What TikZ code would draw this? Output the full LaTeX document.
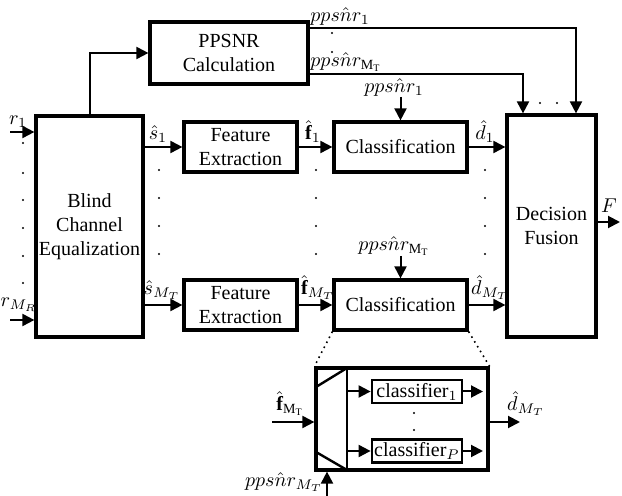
\documentclass[tikz,border=0pt]{standalone}
\usepackage{fontspec}
\setmainfont{Liberation Serif}
\usetikzlibrary{arrows.meta,positioning,calc}

\begin{document}
\begin{tikzpicture}[x=0.5pt,y=-0.5pt,
    every node/.style={font=\normalsize},
    blk/.style={draw, line width=1.6pt, align=center, inner sep=1pt},
    arr/.style={-{Triangle[length=6pt,width=6pt]}, line width=1pt},
    lbl/.style={inner sep=0pt, anchor=south}]
  \useasboundingbox (0,0) rectangle (622,496);
  % main blocks
  \node[blk, minimum width=53.5pt, minimum height=110.5pt] (bce) at (89.5,226.5) {Blind\\Channel\\Equalization};
  \node[blk, minimum width=79pt, minimum height=31pt] (ppsnr) at (229,53) {PPSNR\\Calculation};
  \node[blk, minimum width=56.5pt, minimum height=25pt] (fe1) at (240.5,147) {Feature\\Extraction};
  \node[blk, minimum width=56.5pt, minimum height=25pt] (fe2) at (240.5,305) {Feature\\Extraction};
  \node[blk, minimum width=66.5pt, minimum height=25pt] (cl1) at (400.5,147) {Classification};
  \node[blk, minimum width=66.5pt, minimum height=25pt] (cl2) at (400.5,305) {Classification};
  \node[blk, minimum width=44.5pt, minimum height=111pt] (df) at (551.5,226) {Decision\\Fusion};
  % inputs
  \coordinate (in1) at (10,132);
  \coordinate (in2) at (10,320);
  \draw[arr] (in1) -- (in1 -| bce.west);
  \draw[arr] (in2) -- (in2 -| bce.west);
  \node[lbl] at (18,128) {$r_1$};
  \node[lbl] at (19,312) {$r_{M_R}$};
  % signal paths
  \draw[arr] (bce.north) |- (ppsnr.west);
  \draw[arr] (fe1.west -| bce.east) -- (fe1.west);
  \draw[arr] (fe2.west -| bce.east) -- (fe2.west);
  \draw[arr] (fe1) -- (cl1);
  \draw[arr] (fe2) -- (cl2);
  \draw[arr] (cl1.east) -- (cl1.east -| df.west);
  \draw[arr] (cl2.east) -- (cl2.east -| df.west);
  \node[lbl] at (158,143) {$\hat{s}_1$};
  \node[lbl] at (162,300) {$\hat{s}_{M_T}$};
  \node[lbl] at (313,143) {$\hat{\mathbf{f}}_1$};
  \node[lbl] at (318,300) {$\hat{\mathbf{f}}_{M_T}$};
  \node[lbl] at (485,143) {$\hat{d}_1$};
  \node[lbl] at (490,300) {$\hat{d}_{M_T}$};
  % ppsnr to fusion
  \draw[arr] (ppsnr.east |- 0,28) -| ($(df.north)+(24.5,0)$);
  \draw[arr] (ppsnr.east |- 0,74) -| ($(df.north)+(-28.5,0)$);
  \node[lbl, anchor=south west] at (310,26) {$pps\hat{n}r_1$};
  \node[lbl, anchor=south west] at (310,72) {$pps\hat{n}r_{\mathrm{M_T}}$};
  % ppsnr to classifiers
  \coordinate (p1) at (400.5,97);
  \coordinate (p2) at (400.5,256);
  \draw[arr] (p1) -- (cl1.north);
  \draw[arr] (p2) -- (cl2.north);
  \node[lbl] at (394,97) {$pps\hat{n}r_1$};
  \node[lbl] at (394,256) {$pps\hat{n}r_{\mathrm{M_T}}$};
  % output
  \coordinate (out) at (620,222);
  \draw[arr] (df.east |- out) -- (out);
  \node[lbl] at (609,213) {$F$};
  % dots
  \foreach \y in {143,173,200,228,256,283} \fill (23,\y) circle (1.2);
  \foreach \x in {159,316,485}
    \foreach \y in {170,198,226,254} \fill (\x,\y) circle (1.2);
  \foreach \p in {(332,33),(332,52),(540,103),(557,103),(414,413),(414,430)} \fill \p circle (1.2);
  % detail of classification
  \node[draw, line width=1.6pt, minimum width=86pt, minimum height=51pt] (zoom) at (402,419) {};
  \draw[dotted, line width=0.8pt] (cl2.south west) -- (zoom.north west);
  \draw[dotted, line width=0.8pt] (cl2.south east) -- (zoom.north east);
  \draw[line width=1.2pt] (347,368) -- (347,470);
  \draw[line width=1.2pt] (316,387) -- (347,368);
  \draw[line width=1.2pt] (316,452) -- (347,470);
  \node[blk, line width=1.4pt, minimum width=45pt, minimum height=11.5pt] (c1) at (417,391.5) {classifier$_1$};
  \node[blk, line width=1.4pt, minimum width=45pt, minimum height=11.5pt] (cp) at (417,451) {classifier$_P$};
  \coordinate (e1) at (483,391.5);
  \coordinate (ep) at (483,451);
  \draw[arr] (c1.west -| 347,0) -- (c1.west);
  \draw[arr] (cp.west -| 347,0) -- (cp.west);
  \draw[arr] (c1.east) -- (e1);
  \draw[arr] (cp.east) -- (ep);
  \coordinate (zin) at (272,422);
  \coordinate (zout) at (520,422);
  \coordinate (zp) at (327,496);
  \draw[arr] (zin) -- (zin -| zoom.west);
  \draw[arr] (zout -| zoom.east) -- (zout);
  \draw[arr] (zp) -- (zp |- zoom.south);
  \node[lbl] at (290,416) {$\hat{\mathbf{f}}_{\mathrm{M_T}}$};
  \node[lbl] at (526,416) {$\hat{d}_{M_T}$};
  \node[lbl] at (284,492) {$pps\hat{n}r_{M_T}$};
\end{tikzpicture}
\end{document}
